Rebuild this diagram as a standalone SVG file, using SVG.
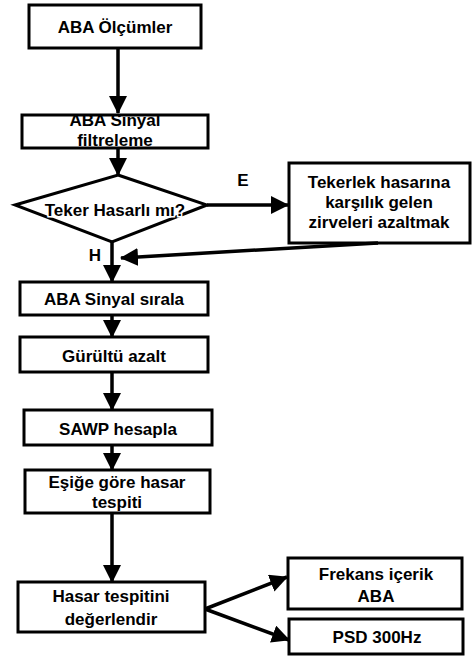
<svg xmlns="http://www.w3.org/2000/svg" width="473" height="657" viewBox="0 0 473 657">
<style>
.box{fill:#fff;stroke:#000;stroke-width:3}
.t{font-family:"Liberation Sans",Arial,sans-serif;font-weight:bold;font-size:17px;fill:#000;text-anchor:middle}
.c{stroke:#000;stroke-width:3.5;fill:none}
</style>
<defs>
<marker id="ah" markerUnits="userSpaceOnUse" markerWidth="18" markerHeight="18" viewBox="0 0 18 18" refX="17" refY="9" orient="auto">
<path d="M0,0 L18,9 L0,18 Z" fill="#000"/>
</marker>
</defs>
<g id="n1"><rect class="box" x="29" y="5" width="172" height="43"/><text class="t" x="115" y="33">ABA Ölçümler</text></g>
<g id="n2"><rect class="box" x="22" y="115" width="186" height="33"/><text class="t" x="115" y="126">ABA Sinyal</text><text class="t" x="115" y="146">filtreleme</text></g>
<g id="n3"><polygon class="box" points="118,175 207,205 112,242 15,205"/><text class="t" x="115" y="216" style="paint-order:stroke;stroke:#fff;stroke-width:3px">Teker Hasarlı mı?</text></g>
<g id="n4"><rect class="box" x="289" y="163" width="181" height="80"/><text class="t" x="379" y="188">Tekerlek hasarına</text><text class="t" x="379" y="208">karşılık gelen</text><text class="t" x="379" y="228">zirveleri azaltmak</text></g>
<g id="n5"><rect class="box" x="20" y="282" width="188" height="33"/><text class="t" x="114" y="305">ABA Sinyal sırala</text></g>
<g id="n6"><rect class="box" x="20" y="337" width="188" height="35"/><text class="t" x="114" y="362">Gürültü azalt</text></g>
<g id="n7"><rect class="box" x="24" y="410" width="188" height="35"/><text class="t" x="118" y="435">SAWP hesapla</text></g>
<g id="n8"><rect class="box" x="25" y="470" width="185" height="43"/><text class="t" x="117" y="488">Eşiğe göre hasar</text><text class="t" x="117" y="508">tespiti</text></g>
<g id="n9"><rect class="box" x="18" y="582" width="187" height="50"/><text class="t" x="111" y="602">Hasar tespitini</text><text class="t" x="111" y="625">değerlendir</text></g>
<g id="n10"><rect class="box" x="288" y="558" width="174" height="51"/><text class="t" x="376" y="580">Frekans içerik</text><text class="t" x="376" y="602">ABA</text></g>
<g id="n11"><rect class="box" x="289" y="619" width="174" height="35"/><text class="t" x="377" y="643">PSD 300Hz</text></g>
<g id="connectors">
<line class="c" x1="118" y1="48" x2="118" y2="113" marker-end="url(#ah)"/>
<line class="c" x1="118" y1="148" x2="118" y2="175" marker-end="url(#ah)"/>
<line class="c" x1="207" y1="205" x2="288" y2="205" marker-end="url(#ah)"/>
<line class="c" x1="378" y1="243" x2="121" y2="258" marker-end="url(#ah)"/>
<line class="c" x1="112" y1="242" x2="112" y2="282" marker-end="url(#ah)"/>
<line class="c" x1="112" y1="315" x2="112" y2="337" marker-end="url(#ah)"/>
<line class="c" x1="112" y1="372" x2="112" y2="410" marker-end="url(#ah)"/>
<line class="c" x1="112" y1="445" x2="112" y2="470" marker-end="url(#ah)"/>
<line class="c" x1="112" y1="513" x2="112" y2="582" marker-end="url(#ah)"/>
<line class="c" x1="205" y1="609" x2="287" y2="577" marker-end="url(#ah)"/>
<line class="c" x1="205" y1="609" x2="289" y2="640" marker-end="url(#ah)"/>
<text class="t" x="243" y="186">E</text>
<text class="t" x="95" y="261">H</text>
</g>
</svg>
